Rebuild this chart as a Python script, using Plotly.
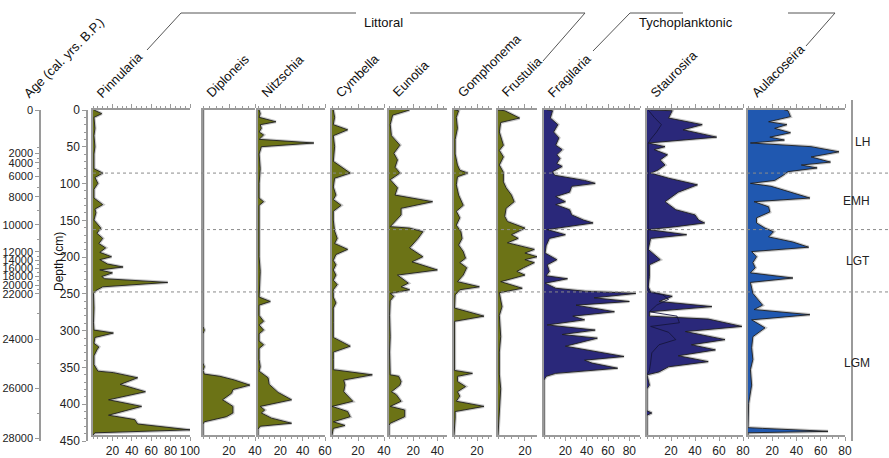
import plotly.graph_objects as go

W, H = 889, 458

# ---- data: diatom relative abundance (%) vs depth (cm) ----
pinnularia_d = [0, 5, 10, 25, 35, 50, 60, 80, 86, 92, 100, 108, 120, 129, 135, 140, 150, 161, 168, 175, 182, 188, 194, 200, 204, 210, 214, 218, 222, 227, 230, 235, 241, 246, 250, 270, 290, 300, 304, 310, 318, 323, 327, 335, 347, 352, 356, 358, 365, 374, 384, 395, 404, 416, 422, 428, 436, 440, 443]
pinnularia_v = [1, 9, 1, 2, 1, 2, 1, 1, 10, 2, 5, 1, 1, 10, 2, 3, 1, 8, 4, 10, 6, 13, 7, 19, 7, 15, 31, 7, 20, 9, 12, 77, 10, 3, 0.5, 1, 0.5, 1, 21, 2, 1, 6, 4, 1, 1, 3, 5, 21, 46, 28, 54, 16, 50, 16, 43, 46, 100, 2, 0]

diploneis_d = [0, 295, 300, 305, 345, 350, 355, 360, 363, 368, 375, 381, 386, 395, 404, 413, 418, 425, 428, 443]
diploneis_v = [0, 0, 1, 0, 0, 1, 0, 1, 13, 24, 36, 23, 22, 15, 23, 23, 18, 1, 0, 0]

nitzschia_d = [0, 5, 10, 16, 20, 25, 30, 34, 40, 45, 50, 60, 80, 100, 120, 125, 130, 150, 180, 200, 220, 250, 255, 261, 266, 280, 288, 293, 300, 305, 315, 320, 325, 340, 350, 356, 361, 365, 374, 385, 395, 404, 409, 413, 420, 427, 431, 435, 443]
nitzschia_v = [1, 2, 1, 16, 2, 3, 1, 5, 1, 50, 3, 1, 2, 1, 1, 5, 1, 1, 1, 1, 2, 1, 1, 11, 1, 1, 5, 1, 5, 1, 1, 5, 1, 1, 2, 1, 6, 9, 10, 18, 30, 2, 6, 3, 12, 30, 2, 0, 0]

cymbella_d = [0, 10, 20, 27, 35, 50, 70, 86, 93, 105, 116, 122, 130, 138, 150, 165, 175, 182, 190, 197, 205, 211, 218, 225, 232, 238, 245, 255, 263, 270, 290, 310, 322, 330, 340, 354, 361, 368, 375, 384, 397, 404, 411, 418, 425, 430, 434, 443]
cymbella_v = [1, 2, 1, 12, 1, 2, 1, 14, 2, 1, 3, 1, 7, 1, 1, 2, 4, 2, 12, 3, 1, 3, 1, 3, 1, 4, 1, 1, 3, 1, 1, 1, 14, 1, 1, 1, 31, 9, 10, 9, 16, 0, 12, 14, 1, 10, 1, 0]

eunotia_d = [0, 7, 20, 35, 48, 59, 68, 78, 86, 95, 106, 116, 125, 134, 143, 154, 159, 161, 166, 175, 188, 200, 207, 218, 225, 236, 241, 245, 250, 254, 260, 280, 309, 330, 358, 361, 363, 370, 375, 384, 388, 397, 404, 409, 418, 427, 430, 443]
eunotia_v = [17, 3, 1, 2, 9, 4, 7, 5, 9, 1, 7, 5, 36, 10, 10, 4, 1, 17, 28, 24, 17, 28, 19, 40, 7, 16, 10, 17, 1, 4, 1, 0.5, 1, 0.5, 0.5, 1, 8, 10, 9, 2, 6, 10, 1, 13, 13, 1, 0, 0]

gomphonema_d = [0, 1, 10, 25, 40, 60, 75, 82, 86, 91, 102, 116, 130, 138, 147, 157, 166, 175, 184, 193, 202, 208, 215, 225, 234, 241, 245, 252, 270, 281, 288, 300, 330, 355, 359, 363, 370, 377, 384, 390, 397, 404, 411, 420, 443]
gomphonema_v = [1, 4, 2, 3, 1, 1, 3, 5, 12, 3, 2, 4, 8, 2, 5, 2, 6, 7, 4, 8, 10, 5, 11, 8, 3, 22, 5, 1, 0.5, 26, 0.5, 0.5, 0.5, 0.5, 16, 3, 3, 10, 3, 5, 2, 26, 1, 1, 0]

frustulia_d = [0, 1, 11, 17, 30, 48, 55, 64, 75, 85, 98, 106, 116, 125, 134, 145, 152, 161, 170, 175, 181, 190, 195, 200, 204, 208, 215, 220, 225, 234, 243, 249, 259, 268, 280, 309, 330, 360, 380, 409, 443]
frustulia_v = [0, 5, 16, 2, 1, 4, 1, 4, 1, 4, 4, 6, 10, 12, 6, 5, 7, 20, 10, 15, 7, 27, 20, 29, 20, 27, 19, 14, 20, 2, 18, 1, 2, 3, 1, 2, 1, 1, 2, 1, 0]

fragilaria_d = [0, 1, 11, 20, 30, 38, 48, 54, 61, 66, 73, 77, 84, 89, 96, 100, 104, 112, 118, 125, 129, 136, 143, 150, 154, 159, 163, 170, 175, 185, 195, 204, 211, 220, 226, 230, 236, 243, 247, 250, 256, 261, 266, 275, 281, 286, 293, 300, 306, 311, 322, 336, 341, 345, 352, 359, 363, 368, 443]
fragilaria_v = [3, 8, 6, 13, 9, 14, 11, 17, 12, 15, 12, 17, 8, 10, 38, 48, 26, 24, 11, 20, 11, 24, 26, 37, 46, 24, 3, 20, 5, 2, 1, 12, 3, 5, 2, 22, 1, 11, 38, 86, 47, 80, 30, 66, 27, 38, 3, 48, 17, 50, 20, 75, 38, 45, 69, 11, 2, 0, 0]

staurosira_d = [0, 1, 11, 20, 27, 37, 45, 50, 54, 61, 68, 75, 82, 86, 93, 102, 112, 125, 136, 143, 150, 154, 159, 163, 170, 175, 190, 204, 211, 227, 241, 248, 254, 261, 268, 275, 281, 285, 295, 302, 313, 320, 327, 335, 343, 350, 357, 361, 375, 380, 410, 413, 416, 443]
staurosira_v = [3, 21, 18, 46, 30, 58, 1, 15, 6, 17, 11, 15, 9, 3, 18, 42, 26, 15, 24, 40, 43, 48, 24, 1, 33, 3, 1, 11, 2, 2, 1, 3, 21, 10, 54, 2, 2, 51, 79, 32, 65, 37, 57, 26, 51, 18, 10, 0, 2, 0, 0, 4, 0, 0]
# inner (sub-group) outline drawn inside the Staurosira curve
staurosira_in_d = [0, 10, 20, 30, 40, 45, 248, 252, 258, 266, 275, 281, 290, 295, 303, 313, 320, 331, 345, 355, 361]
staurosira_in_v = [1, 6, 12, 8, 3, 1, 1, 13, 18, 8, 2, 25, 27, 3, 18, 24, 10, 4, 3, 2, 0]

aulacoseira_d = [0, 1, 9, 16, 20, 25, 31, 37, 41, 45, 50, 57, 64, 71, 75, 79, 84, 89, 96, 100, 104, 112, 120, 125, 132, 139, 147, 154, 161, 166, 173, 180, 187, 193, 200, 208, 215, 222, 229, 235, 250, 266, 272, 279, 286, 297, 309, 324, 340, 354, 375, 400, 433, 434, 438, 440, 443]
aulacoseira_v = [30, 33, 35, 17, 32, 22, 35, 18, 30, 2, 52, 75, 52, 68, 44, 57, 33, 29, 22, 2, 19, 36, 51, 5, 17, 18, 7, 7, 14, 21, 17, 37, 50, 3, 7, 4, 6, 2, 37, 2, 4, 12, 5, 51, 3, 14, 4, 3, 4, 2, 3, 0.5, 0, 12, 66, 0, 0]

taxa = ["Pinnularia", "Diploneis", "Nitzschia", "Cymbella", "Eunotia",
        "Gomphonema", "Frustulia", "Fragilaria", "Staurosira", "Aulacoseira"]
depths = [pinnularia_d, diploneis_d, nitzschia_d, cymbella_d, eunotia_d,
          gomphonema_d, frustulia_d, fragilaria_d, staurosira_d, aulacoseira_d]
values = [pinnularia_v, diploneis_v, nitzschia_v, cymbella_v, eunotia_v,
          gomphonema_v, frustulia_v, fragilaria_v, staurosira_v, aulacoseira_v]
x_max = [100, 40, 60, 40, 48, 33, 29, 90, 80, 80]
x_labels = [[20, 40, 60, 80, 100], [20, 40], [20, 40, 60], [20, 40], [20, 40],
            [20], [20], [20, 40, 60, 80], [20, 40, 60, 80], [20, 40, 60, 80]]
minor_step = [5, 5, 5, 5, 5, 5, 5, 5, 5, 5]

age_ticks = [0, 2000, 4000, 6000, 8000, 10000, 12000, 14000, 16000, 18000, 20000, 22000, 24000, 26000, 28000]
age_depth = [0, 58.5, 72, 90, 118, 156, 193, 204, 215, 226, 238, 250, 312, 378, 446]
age_minor_depth = [51, 66, 80, 105, 137, 176, 199, 210, 221, 232, 244, 277, 345, 412]

zone_names = ["LH", "EMH", "LGT", "LGM"]
zone_bounds = [0, 86, 163, 248, 450]

# ---- style ----
OLIVE = "rgb(108,115,22)"
NAVY = "rgb(42,40,122)"
BLUE = "rgb(32,88,176)"
fills = [OLIVE] * 7 + [NAVY, NAVY, BLUE]
AX = "#9a9a9a"
FONT = "Arial, Liberation Sans, sans-serif"

# panel pixel extents (left = 0 %, right = x_max)
panel_px = [(93, 190), (203, 255), (258, 325), (332, 384), (389, 447),
            (454, 492), (498, 537), (544, 640), (647, 743), (748, 845)]

def px(x):
    return x / W

def py(y):
    return 1 - y / H

Y_TOP, Y_BOT = 110, 435
D_BOT = 443

fig = go.Figure()
layout = dict(
    width=W, height=H, margin=dict(l=0, r=0, t=0, b=0, autoexpand=False),
    paper_bgcolor="white", plot_bgcolor="white", showlegend=False,
    font=dict(family=FONT, size=12, color="#222"),
)

for i, name in enumerate(taxa):
    k = "" if i == 0 else str(i + 1)
    xa, ya = "x" + k, "y" + k
    d, v = depths[i], values[i]
    # soft halo under the outline
    fig.add_trace(go.Scatter(x=v, y=d, mode="lines", xaxis=xa, yaxis=ya,
                             line=dict(color="rgba(0,0,0,0.22)", width=3.2),
                             hoverinfo="skip"))
    fig.add_trace(go.Scatter(x=v, y=d, mode="lines", fill="tozerox",
                             fillcolor=fills[i], xaxis=xa, yaxis=ya,
                             line=dict(color="#1e1e1e", width=0.9), name=name))
    if name == "Staurosira":
        fig.add_trace(go.Scatter(x=staurosira_in_v, y=staurosira_in_d, mode="lines",
                                 xaxis=xa, yaxis=ya, hoverinfo="skip",
                                 line=dict(color="#15153d", width=0.9)))
    l, r = panel_px[i]
    layout["xaxis" + k] = dict(
        domain=[px(l), px(r)], range=[0, x_max[i]], anchor=ya, side="bottom",
        showline=True, linecolor=AX, linewidth=1.5, mirror="ticks",
        ticks="outside", ticklen=4, tickcolor=AX, tickwidth=1,
        tickvals=x_labels[i], tickfont=dict(size=12, color="#222"),
        minor=dict(ticks="outside", ticklen=2, dtick=minor_step[i], tickcolor=AX),
        showgrid=False, zeroline=False, fixedrange=True, automargin=False,
    )
    layout["yaxis" + k] = dict(
        domain=[py(Y_BOT), py(Y_TOP)], range=[D_BOT, 0], anchor=xa,
        showline=True, linecolor=AX, linewidth=1.5, ticks="",
        showticklabels=False, showgrid=False, zeroline=False, automargin=False,
    )

# depth axis
fig.add_trace(go.Scatter(x=[0], y=[0], xaxis="x11", yaxis="y11", mode="markers",
                         marker=dict(opacity=0), hoverinfo="skip"))
layout["xaxis11"] = dict(domain=[0.0, 0.005], visible=False, anchor="y11", automargin=False)
layout["yaxis11"] = dict(
    domain=[py(441), py(Y_TOP)], range=[450, 0], anchor="free", position=px(87),
    side="left", showline=True, linecolor=AX, linewidth=1.5,
    tickvals=list(range(0, 451, 50)), ticks="outside", ticklen=4, tickcolor=AX,
    tickfont=dict(size=12, color="#222"),
    minor=dict(ticks="outside", ticklen=2, dtick=10, tickcolor=AX),
    showgrid=False, zeroline=False, automargin=False,
)

# age axis (ages placed at their depths)
fig.add_trace(go.Scatter(x=[0], y=[0], xaxis="x12", yaxis="y12", mode="markers",
                         marker=dict(opacity=0), hoverinfo="skip"))
layout["xaxis12"] = dict(domain=[0.0, 0.005], visible=False, anchor="y12", automargin=False)
layout["yaxis12"] = dict(
    domain=[py(441), py(Y_TOP)], range=[450, 0], anchor="free", position=px(40),
    side="left", showline=True, linecolor=AX, linewidth=1.5,
    tickvals=age_depth, ticktext=[str(a) for a in age_ticks],
    ticks="outside", ticklen=4, tickcolor=AX,
    tickfont=dict(size=11, color="#222"),
    minor=dict(ticks="outside", ticklen=2, tickvals=age_minor_depth, tickcolor=AX),
    showgrid=False, zeroline=False, automargin=False,
)

shapes = []
# zone boundaries
for b in zone_bounds[1:-1]:
    shapes.append(dict(type="line", xref="paper", yref="y", x0=px(93), x1=1,
                       y0=b, y1=b, line=dict(color="#8a8a8a", width=1, dash="dot")))
# zone column
shapes.append(dict(type="line", xref="paper", yref="paper", x0=px(852), x1=px(852),
                   y0=py(441), y1=py(100), line=dict(color=AX, width=2)))

# group brackets
def bracket(pts):
    path = "M " + " L ".join(f"{px(a)},{py(b)}" for a, b in pts)
    return dict(type="path", xref="paper", yref="paper", path=path,
                line=dict(color="#555", width=1))

shapes.append(bracket([(147, 50), (181, 13), (356, 13)]))
shapes.append(bracket([(410, 13), (585, 13), (543, 61)]))
shapes.append(bracket([(593, 51), (630, 13), (683, 13)]))
shapes.append(bracket([(788, 13), (835, 13), (806, 46)]))

annotations = []
for i, name in enumerate(taxa):
    annotations.append(dict(text=name, xref="paper", yref="paper",
                            x=px(panel_px[i][0] - 2), y=py(103), xanchor="left",
                            yanchor="bottom", textangle=-45, showarrow=False,
                            font=dict(size=13, color="#111")))
annotations.append(dict(text="Age (cal. yrs. B.P.)", xref="paper", yref="paper",
                        x=px(18), y=py(103), xanchor="left", yanchor="bottom",
                        textangle=-45, showarrow=False, font=dict(size=13, color="#111")))
annotations.append(dict(text="Littoral", xref="paper", yref="paper", x=px(383),
                        y=py(13), showarrow=False, font=dict(size=13, color="#111")))
annotations.append(dict(text="Tychoplanktonic", xref="paper", yref="paper", x=px(735),
                        y=py(13), showarrow=False, font=dict(size=13, color="#111")))
annotations.append(dict(text="Depth (cm)", xref="paper", yref="paper", x=px(50),
                        y=py(262), textangle=-90, showarrow=False,
                        font=dict(size=12, color="#111")))
for j, z in enumerate(zone_names):
    mid = (zone_bounds[j] + min(zone_bounds[j + 1], 441)) / 2
    annotations.append(dict(text=z, xref="paper", yref="y", x=px(872), y=mid,
                            showarrow=False, font=dict(size=12, color="#222")))

layout["shapes"] = shapes
layout["annotations"] = annotations
fig.update_layout(**layout)
fig.write_html("out.html")
